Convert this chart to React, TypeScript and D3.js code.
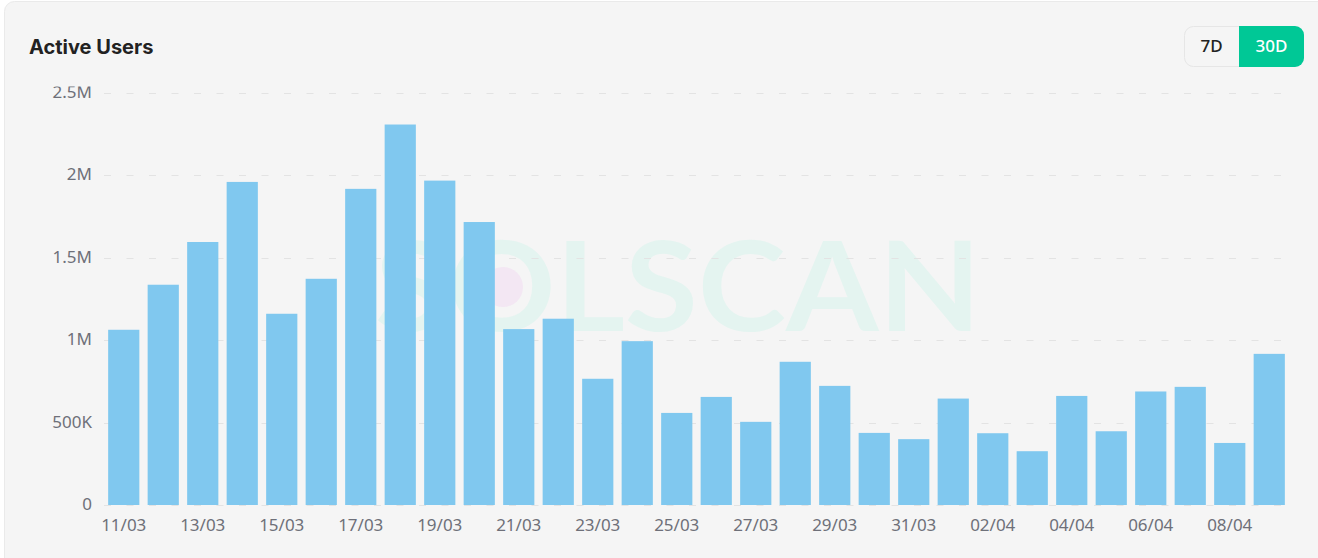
import React, { useEffect, useRef } from 'react';
import * as d3 from 'd3';

const dates = [
  '11/03', '12/03', '13/03', '14/03', '15/03', '16/03', '17/03', '18/03', '19/03', '20/03',
  '21/03', '22/03', '23/03', '24/03', '25/03', '26/03', '27/03', '28/03', '29/03', '30/03',
  '31/03', '01/04', '02/04', '03/04', '04/04', '05/04', '06/04', '07/04', '08/04', '09/04',
];
const activeUsers = [
  1062000, 1335000, 1594000, 1958000, 1159000, 1371000, 1916000, 2306000, 1966000, 1715000,
  1066000, 1129000, 765000, 993000, 558000, 655000, 504000, 868000, 722000, 437000,
  399000, 645000, 435000, 326000, 661000, 447000, 688000, 716000, 376000, 916000,
];
const yTicks = [0, 500000, 1000000, 1500000, 2000000, 2500000];
const yTickLabels = ['0', '500K', '1M', '1.5M', '2M', '2.5M'];
const ranges = ['7D', '30D'];

const W = 1318;
const H = 558;

const App: React.FC = () => {
  const svgRef = useRef<SVGSVGElement>(null);

  useEffect(() => {
    if (!svgRef.current) return;
    const svg = d3.select(svgRef.current);
    svg.selectAll('*').remove();

    const font = '"Noto Sans", "DejaVu Sans", sans-serif';

    // card
    svg.append('rect')
      .attr('width', W).attr('height', H).attr('fill', '#ffffff');
    svg.append('rect')
      .attr('x', 4.5).attr('y', 1.5)
      .attr('width', W + 20).attr('height', H + 20)
      .attr('rx', 10)
      .attr('fill', '#f5f5f5')
      .attr('stroke', '#eaeaea');

    // title
    svg.append('text')
      .attr('x', 29).attr('y', 54)
      .attr('font-family', 'Inter, "Noto Sans", sans-serif')
      .attr('font-size', 20)
      .attr('font-weight', 700)
      .attr('fill', '#222222')
      .text('Active Users');

    // range toggle
    const tg = svg.append('g');
    tg.append('rect')
      .attr('x', 1184.5).attr('y', 26.5).attr('width', 119).attr('height', 40)
      .attr('rx', 9).attr('fill', '#f5f5f5').attr('stroke', '#e6e6e6');
    tg.append('path')
      .attr('d', 'M1239,26 H1295 A9,9 0 0 1 1304,35 V58 A9,9 0 0 1 1295,67 H1239 Z')
      .attr('fill', '#00c896');
    ranges.forEach((r, i) => {
      tg.append('text')
        .attr('x', i === 0 ? 1211.5 : 1271.5)
        .attr('y', 47)
        .attr('text-anchor', 'middle')
        .attr('dominant-baseline', 'middle')
        .attr('font-family', font)
        .attr('font-size', 17)
        .attr('font-weight', 500)
        .attr('fill', i === 0 ? '#222222' : '#ffffff')
        .text(r);
    });

    // scales
    const x = d3.scaleBand<string>()
      .domain(dates)
      .range([104, 1289])
      .paddingInner(0.21)
      .paddingOuter(0.105);
    const y = d3.scaleLinear()
      .domain([0, 2500000])
      .range([505, 92.5]);

    // watermark
    const wm = svg.append('g');
    wm.append('text')
      .attr('x', 375).attr('y', 331)
      .attr('font-family', 'Lato, "Noto Sans", sans-serif')
      .attr('font-size', 124)
      .attr('font-weight', 700)
      .attr('textLength', 606)
      .attr('lengthAdjust', 'spacingAndGlyphs')
      .attr('fill', '#e4f4f0')
      .text('SOLSCAN');
    wm.append('circle')
      .attr('cx', 503).attr('cy', 287).attr('r', 20)
      .attr('fill', '#f3e7f3');

    // grid
    svg.append('g')
      .selectAll('line')
      .data(yTicks)
      .join('line')
      .attr('x1', 104).attr('x2', 1289)
      .attr('y1', d => Math.round(y(d)) + 0.5)
      .attr('y2', d => Math.round(y(d)) + 0.5)
      .attr('stroke', '#e3e3e3')
      .attr('stroke-width', 1)
      .attr('stroke-dasharray', '7 15.5');

    // y labels (clipped at top like the original)
    svg.append('clipPath').attr('id', 'yclip')
      .append('rect').attr('x', 0).attr('y', 86.5).attr('width', 100).attr('height', 460);
    svg.append('g')
      .attr('clip-path', 'url(#yclip)')
      .selectAll('text')
      .data(yTicks)
      .join('text')
      .attr('x', 92)
      .attr('y', d => y(d) - 1)
      .attr('dy', '0.36em')
      .attr('text-anchor', 'end')
      .attr('font-family', font)
      .attr('font-size', 17)
      .attr('fill', '#6e7079')
      .text((d, i) => yTickLabels[i]);

    // bars
    svg.append('g')
      .selectAll('rect')
      .data(activeUsers)
      .join('rect')
      .attr('x', (d, i) => x(dates[i]) as number)
      .attr('y', d => y(d))
      .attr('width', x.bandwidth())
      .attr('height', d => y(0) - y(d))
      .attr('fill', '#80c8ef');

    // x labels every other day
    svg.append('g')
      .selectAll('text')
      .data(dates.filter((d, i) => i % 2 === 0))
      .join('text')
      .attr('x', d => (x(d) as number) + x.bandwidth() / 2)
      .attr('y', 530.5)
      .attr('text-anchor', 'middle')
      .attr('font-family', font)
      .attr('font-size', 17)
      .attr('fill', '#6e7079')
      .text(d => d);
  }, []);

  return (
    <svg
      ref={svgRef}
      width={W}
      height={H}
      style={{ position: 'absolute', left: 0, top: 0, display: 'block' }}
    />
  );
};

export default App;
